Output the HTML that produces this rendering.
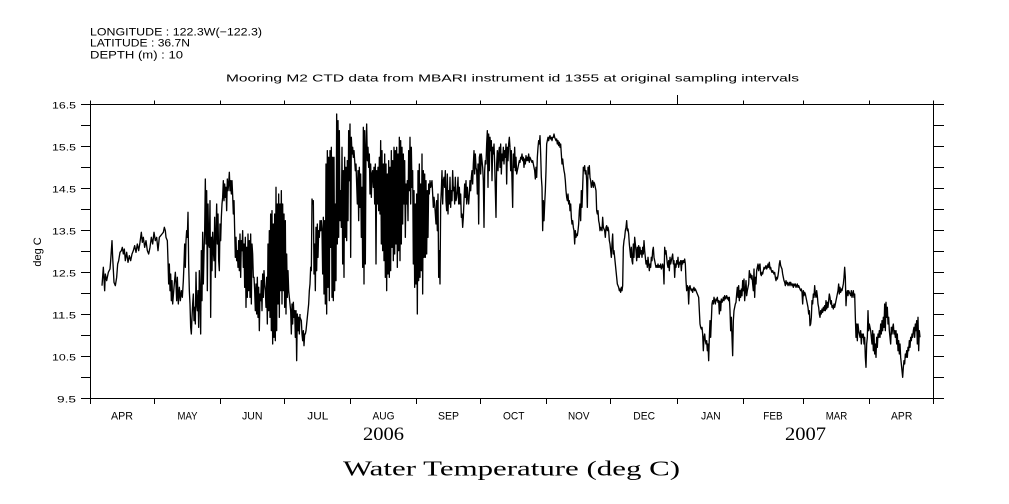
<!DOCTYPE html>
<html>
<head>
<meta charset="utf-8">
<style>
html,body{margin:0;padding:0;background:#fff;}
svg{display:block;}
text{fill:#000;font-family:"Liberation Sans",sans-serif;}
.serif{font-family:"Liberation Serif",serif;}
</style>
</head>
<body>
<svg width="1009" height="504" viewBox="0 0 1009 504" xmlns="http://www.w3.org/2000/svg">
<rect x="0" y="0" width="1009" height="504" fill="#fff"/>

<!-- header -->
<text x="90" y="35.5" font-size="11" textLength="172" lengthAdjust="spacingAndGlyphs">LONGITUDE : 122.3W(−122.3)</text>
<text x="90" y="46.7" font-size="11" textLength="100" lengthAdjust="spacingAndGlyphs">LATITUDE : 36.7N</text>
<text x="90" y="58.7" font-size="11" textLength="93" lengthAdjust="spacingAndGlyphs">DEPTH (m) : 10</text>
<text x="226" y="81.5" font-size="10.5" textLength="573" lengthAdjust="spacingAndGlyphs">Mooring M2 CTD data from MBARI instrument id 1355 at original sampling intervals</text>

<!-- frame -->
<rect x="90.5" y="104.5" width="843" height="294" fill="none" stroke="#000" stroke-width="1"/>

<!-- left / right ticks -->
<g stroke="#000" stroke-width="1">
<path d="M81,104.5H90.5M81,125.5H90.5M81,146.5H90.5M81,167.5H90.5M81,188.5H90.5M81,209.5H90.5M81,230.5H90.5M81,251.5H90.5M81,272.5H90.5M81,293.5H90.5M81,314.5H90.5M81,335.5H90.5M81,356.5H90.5M81,377.5H90.5M81,398.5H90.5"/>
<path d="M933.5,104.5H944M933.5,125.5H944M933.5,146.5H944M933.5,167.5H944M933.5,188.5H944M933.5,209.5H944M933.5,230.5H944M933.5,251.5H944M933.5,272.5H944M933.5,293.5H944M933.5,314.5H944M933.5,335.5H944M933.5,356.5H944M933.5,377.5H944M933.5,398.5H944"/>
<!-- bottom ticks -->
<path d="M90.5,398.5V404M154.5,398.5V404M220.5,398.5V404M284.5,398.5V404M350.5,398.5V404M416.5,398.5V404M480.5,398.5V404M546.5,398.5V404M610.5,398.5V404M677.5,398.5V404M743.5,398.5V404M803.5,398.5V404M869.5,398.5V404M933.5,398.5V404"/>
<!-- top ticks -->
<path d="M90.5,104.5V100.5M154.5,104.5V100.5M220.5,104.5V100.5M284.5,104.5V100.5M350.5,104.5V100.5M416.5,104.5V100.5M480.5,104.5V100.5M546.5,104.5V100.5M610.5,104.5V100.5M677.5,104.5V95M743.5,104.5V100.5M803.5,104.5V100.5M869.5,104.5V100.5M933.5,104.5V100.5"/>
</g>

<!-- y labels -->
<g font-size="9.5">
<text x="52" y="108.3" textLength="24" lengthAdjust="spacingAndGlyphs">16.5</text>
<text x="52" y="150.3" textLength="24" lengthAdjust="spacingAndGlyphs">15.5</text>
<text x="52" y="192.3" textLength="24" lengthAdjust="spacingAndGlyphs">14.5</text>
<text x="52" y="234.3" textLength="24" lengthAdjust="spacingAndGlyphs">13.5</text>
<text x="52" y="276.3" textLength="24" lengthAdjust="spacingAndGlyphs">12.5</text>
<text x="52" y="318.3" textLength="24" lengthAdjust="spacingAndGlyphs">11.5</text>
<text x="52" y="360.3" textLength="24" lengthAdjust="spacingAndGlyphs">10.5</text>
<text x="57" y="402.3" textLength="19" lengthAdjust="spacingAndGlyphs">9.5</text>
</g>
<text transform="translate(41,252) rotate(-90)" font-size="11" text-anchor="middle">deg C</text>

<!-- month labels -->
<g font-size="11">
<text x="111" y="419.3" textLength="22" lengthAdjust="spacingAndGlyphs">APR</text>
<text x="177.5" y="419.3" textLength="20" lengthAdjust="spacingAndGlyphs">MAY</text>
<text x="242" y="419.3" textLength="20.5" lengthAdjust="spacingAndGlyphs">JUN</text>
<text x="307.3" y="419.3" textLength="21" lengthAdjust="spacingAndGlyphs">JUL</text>
<text x="372.5" y="419.3" textLength="22" lengthAdjust="spacingAndGlyphs">AUG</text>
<text x="438" y="419.3" textLength="21" lengthAdjust="spacingAndGlyphs">SEP</text>
<text x="503" y="419.3" textLength="21.5" lengthAdjust="spacingAndGlyphs">OCT</text>
<text x="568" y="419.3" textLength="21.5" lengthAdjust="spacingAndGlyphs">NOV</text>
<text x="633.3" y="419.3" textLength="21.7" lengthAdjust="spacingAndGlyphs">DEC</text>
<text x="701" y="419.3" textLength="19.7" lengthAdjust="spacingAndGlyphs">JAN</text>
<text x="763.3" y="419.3" textLength="19.4" lengthAdjust="spacingAndGlyphs">FEB</text>
<text x="825.7" y="419.3" textLength="21.6" lengthAdjust="spacingAndGlyphs">MAR</text>
<text x="891" y="419.3" textLength="21.3" lengthAdjust="spacingAndGlyphs">APR</text>
</g>
<text class="serif" x="363" y="440" font-size="19" textLength="41" lengthAdjust="spacingAndGlyphs">2006</text>
<text class="serif" x="785" y="440" font-size="19" textLength="41" lengthAdjust="spacingAndGlyphs">2007</text>

<text class="serif" x="343" y="475.5" font-size="21" textLength="337" lengthAdjust="spacingAndGlyphs">Water Temperature (deg C)</text>

<!-- data -->
<g fill="none" stroke="#000" stroke-width="4" stroke-linejoin="round" stroke-linecap="butt">
<path transform="translate(90,104) scale(0.333333)" d="M36,545 L40,490 44,560 46,510 50,530 55,505 60,495 62,470 66,410 68,460 72,535 76,545 80,520 83,480 86,470 90,445 94,440 97,430 100,450 103,435 106,470 110,445 114,475 118,455 122,470 126,450 130,440 134,425 138,445 142,420 146,440 150,415 154,385 157,415 160,400 164,430 168,410 172,440 176,450 180,430 184,400 188,420 192,385 196,410 200,400 204,440 208,400 212,395 216,390 220,385 223,370 226,380 228,400 232,410 234,470 236,540 238,480 240,560 242,510 244,590 246,530 248,600 252,550 256,505 258,540 260,590 262,520 265,600 268,550 271,590 274,560 277,580 280,530 282,480 284,420 286,490 288,410 290,380 292,400 294,325 296,480 298,560 300,600 302,670 304,690 306,640 308,600 310,570 312,650 314,610 316,660 318,505 320,600 322,620 324,560 326,670 328,500 330,570 332,690 334,440 336,590 338,385 340,540 342,450 344,380 346,225 348,420 350,260 352,560 354,300 356,420 358,430 360,290 362,640 364,400 366,500 368,385 370,440 372,470 374,340 376,520 378,390 380,300 382,420 384,330 386,470 388,500 390,360 392,410 394,340 396,300 398,280 400,230 402,290 404,240 406,280 408,250 410,320 412,225 414,260 416,240 418,205 420,260 422,230 424,270 426,230 428,275 430,330 432,290 434,380 436,460 438,400 440,470 442,440 444,490 446,410 448,500 450,390 452,520 454,410 456,440 458,380 460,490 462,420 464,550 466,400 468,610 470,430 472,580 474,390 476,560 478,410 480,580 482,390 484,600 486,420 488,450 490,520 492,520 494,560 496,620 498,540 500,630 502,520 504,640 506,550 508,680 510,570 512,590 514,530 516,620 518,510 520,580 522,500 524,540 526,560 528,610 530,520 532,660 534,420 536,620 538,380 540,640 542,330 544,680 546,320 548,720 550,360 552,700 554,330 556,710 558,250 560,680 562,300 564,600 566,270 568,640 570,300 572,560 574,260 576,600 578,300 580,560 582,330 584,610 586,350 588,630 590,450 592,580 594,500 596,560 598,580 600,600 602,620 604,690 606,600 608,660 610,595 612,640 614,620 616,700 618,620 620,770 622,630 624,680 626,640 628,690 630,630"/>
<path transform="translate(300,104) scale(0.333333)" d="M0,640 L4,650 6,690 8,710 10,680 12,725 14,690 16,690 18,680 20,660 22,640 24,620 26,600 28,560 30,540 32,490 34,500 36,285 38,300 40,290 42,510 44,420 46,560 48,370 50,500 52,360 54,460 56,380 58,400 60,350 62,380 64,350 66,380 68,510 70,340 72,570 74,350 76,600 78,180 80,630 82,140 84,550 86,160 88,590 90,140 92,430 94,130 96,580 98,160 100,590 102,160 104,560 106,300 108,530 110,30 112,420 114,50 116,400 118,80 120,350 122,260 124,370 126,130 128,480 130,200 132,520 134,160 136,400 138,190 140,410 142,170 144,350 146,80 148,230 150,60 152,460 154,100 156,150 158,130 160,160 162,140 164,170 166,200 168,180 170,240 172,300 174,200 176,350 178,190 180,310 182,210 184,400 186,250 188,490 190,70 192,540 194,80 196,480 198,130 200,60 202,170 204,130 206,190 208,150 210,270 212,180 214,280 216,210 218,200 220,250 222,190 224,300 226,180 228,480 230,200 232,300 234,190 236,320 238,160 240,330 242,110 244,420 246,140 248,440 250,180 252,470 254,150 256,520 258,180 260,560 262,210 264,510 266,170 268,520 270,190 272,500 274,140 276,430 278,170 280,470 282,130 284,450 286,140 288,420 290,130 292,490 294,150 296,440 298,100 300,470 302,110 304,420 306,130 308,360 310,150 312,300 314,170 316,400 318,240 320,300 322,230 324,350 326,140 328,260 330,100 332,300 334,130 336,250 338,200 340,480 342,260 344,550 346,300 348,540 350,270 352,630 354,200 356,530 358,180 360,520 362,240 364,500 366,150 368,570 370,200 372,460 374,210 376,460 378,230 380,450 382,260 384,400 386,240 388,270 390,230 392,250 394,240 396,230 398,270 400,310 402,280 404,300 406,330 408,360 410,290 412,380 414,270 416,520 418,440 420,540 422,300 424,260 426,200 428,300 430,230 432,220 434,250 436,200 438,290 440,320 442,210 444,330 446,260 448,300 450,220 452,310 454,260 456,290 458,200 460,260 462,250 464,300 466,220 468,290 470,280 472,260 474,220 476,300 478,250 480,300 482,270 484,340 486,330 488,370 490,340 492,290 494,240 496,280 498,230 500,300 502,250 504,280 506,300 508,270 510,230 512,260 514,220 516,200 518,240 520,180 522,140 524,210 526,150 528,190 530,200 532,270 534,180 536,360 538,160 540,150 542,210 544,150 546,170 548,190 550,230 552,370 554,200 556,170 558,180 560,120 562,80 564,250 566,90 568,200 570,100 572,140 574,110 576,230 578,130 580,150 582,120 584,180 586,260 588,340 590,180 592,140 594,200 596,150 598,130 600,190 602,120 604,210 606,150 608,170 610,130 612,180 614,140 616,160 618,120 620,240 622,130 624,170 626,120 628,100 630,130"/>
<path transform="translate(510,104) scale(0.333333)" d="M0,130 L2,200 4,140 6,230 8,310 10,150 12,190 14,130 16,200 18,160 20,210 22,200 24,190 26,180 28,170 30,175 32,160 34,165 36,150 38,170 40,160 42,190 44,165 46,180 48,155 50,170 52,160 54,170 56,150 58,175 60,160 62,165 64,170 66,175 68,170 70,180 72,190 74,200 76,225 78,190 80,220 82,160 84,130 86,110 88,120 90,95 92,150 94,220 96,250 98,380 100,290 102,350 104,300 106,260 108,200 110,120 112,110 114,100 116,110 118,100 120,95 122,105 124,100 126,110 128,100 130,100 132,90 134,100 136,105 138,110 140,105 142,120 144,110 146,125 148,115 150,130 152,120 154,150 156,180 158,165 160,185 162,200 164,210 166,230 168,260 170,280 172,290 174,270 176,300 178,290 180,320 182,300 184,340 186,360 188,350 190,370 192,380 194,420 196,380 198,400 200,390 202,395 204,380 206,360 208,320 210,300 212,350 214,260 216,310 218,250 220,190 222,200 224,185 226,210 228,200 230,230 232,310 234,190 236,210 238,185 240,220 242,230 244,250 246,240 248,230 250,250 252,235 254,240 256,250 258,260 260,320 262,330 264,320 266,350 268,360 270,380 272,370 274,375 276,380 278,340 280,370 282,375 284,380 286,400 288,370 290,365 292,380 294,370 296,380 298,410 300,420 302,440 304,460 306,420 308,390 310,450 312,440 314,460 316,480 318,500 320,520 322,540 324,545 326,550 328,560 330,555 332,565 334,550 336,560 338,545 340,430 342,410 344,400 346,380 348,370 350,350 352,380 354,375 356,390 358,420 360,440 362,460 364,430 366,470 368,480 370,420 372,460 374,400 376,420 378,440 380,470 382,430 384,460 386,425 388,460 390,430 392,450 394,440 396,460 398,430 400,450 402,410 404,440 406,460 408,480 410,470 412,490 414,460 416,480 418,500 420,480 422,490 424,460 426,470 428,440 430,430 432,460 434,470 436,480 438,490 440,485 442,490 444,480 446,490 448,485 450,490 452,480 454,495 456,490 458,480 460,490 462,540 464,430 466,450 468,440 470,460 472,480 474,490 476,470 478,500 480,460 482,480 484,470 486,460 488,450 490,480 492,470 494,520 496,480 498,490 500,470 502,480 504,460 506,490 508,475 510,480 512,470 514,500 516,470 518,480 520,470 522,475 524,465 526,480 528,530 530,560 532,545 534,550 536,600 538,550 540,545 542,555 544,560 546,555 548,565 550,555 552,550 554,560 556,555 558,560 560,565 562,570 564,575 566,580 568,620 570,660 572,670 574,675 576,670 578,690 580,740 582,700 584,690 586,710 588,720 590,710 592,740 594,720 596,770 598,700 600,650 602,700 604,650 606,600 608,590 610,600 612,580 614,590 616,600 618,585 620,590 622,580 624,595 626,590 628,630 630,590"/>
<path transform="translate(720,104) scale(0.333333)" d="M0,590 L2,620 4,585 6,595 8,590 10,580 12,590 14,575 16,585 18,580 20,575 22,585 24,580 26,590 28,580 30,620 32,680 34,640 36,700 38,755 40,650 42,620 44,610 46,600 48,595 50,570 52,550 54,580 56,545 58,590 60,560 62,580 64,555 66,575 68,530 70,560 72,525 74,590 76,560 78,530 80,575 82,560 84,550 86,540 88,500 90,520 92,510 94,525 96,515 98,540 100,560 102,495 104,580 106,520 108,540 110,500 112,490 114,480 116,500 118,485 120,480 122,510 124,515 126,505 128,510 130,500 132,490 134,495 136,490 138,485 140,495 142,490 144,480 146,490 148,475 150,495 152,490 154,500 156,505 158,500 160,505 162,510 164,505 166,520 168,530 170,520 172,525 174,515 176,500 178,480 180,470 182,485 184,490 186,495 188,510 190,520 192,530 194,535 196,545 198,530 200,540 202,535 204,545 206,540 208,535 210,545 212,535 214,540 216,545 218,540 220,550 222,540 224,545 226,540 228,550 230,545 232,540 234,550 236,545 238,550 240,555 242,560 244,555 246,565 248,600 250,560 252,575 254,565 256,570 258,580 260,590 262,600 264,610 266,630 268,620 270,665 272,660 274,640 276,590 278,600 280,570 282,580 284,545 286,570 288,580 290,560 292,575 294,600 296,610 298,630 300,640 302,620 304,630 306,615 308,625 310,610 312,620 314,605 316,620 318,590 320,615 322,595 324,610 326,590 328,570 330,580 332,600 334,590 336,610 338,605 340,615 342,600 344,610 346,600 348,590 350,580 352,570 354,560 356,540 358,570 360,550 362,565 364,555 366,560 368,550 370,540 372,520 374,490 376,520 378,605 380,570 382,560 384,575 386,560 388,565 390,570 392,575 394,560 396,580 398,570 400,560 402,580 404,570 406,640 408,700 410,660 412,710 414,660 416,680 418,690 420,700 422,680 424,720 426,690 428,700 430,690 432,720 434,700 436,760 438,790 440,720 442,700 444,620 446,680 448,660 450,670 452,680 454,700 456,720 458,680 460,740 462,690 464,750 466,720 468,760 470,700 472,730 474,690 476,700 478,680 480,700 482,660 484,690 486,650 488,680 490,640 492,670 494,600 496,680 498,595 500,640 502,610 504,660 506,640 508,680 510,700 512,720 514,670 516,690 518,670 520,660 522,690 524,680 526,700 528,680 530,720 532,690 534,740 536,710 538,750 540,720 542,760 544,780 546,800 548,820 550,790 552,770 554,780 556,750 558,760 560,740 562,760 564,730 566,740 568,710 570,730 572,700 574,710 576,690 578,700 580,680 582,670 584,700 586,660 588,680 590,650 592,720 594,640 596,740 598,680 600,700"/>
</g>
</svg>
</body>
</html>
